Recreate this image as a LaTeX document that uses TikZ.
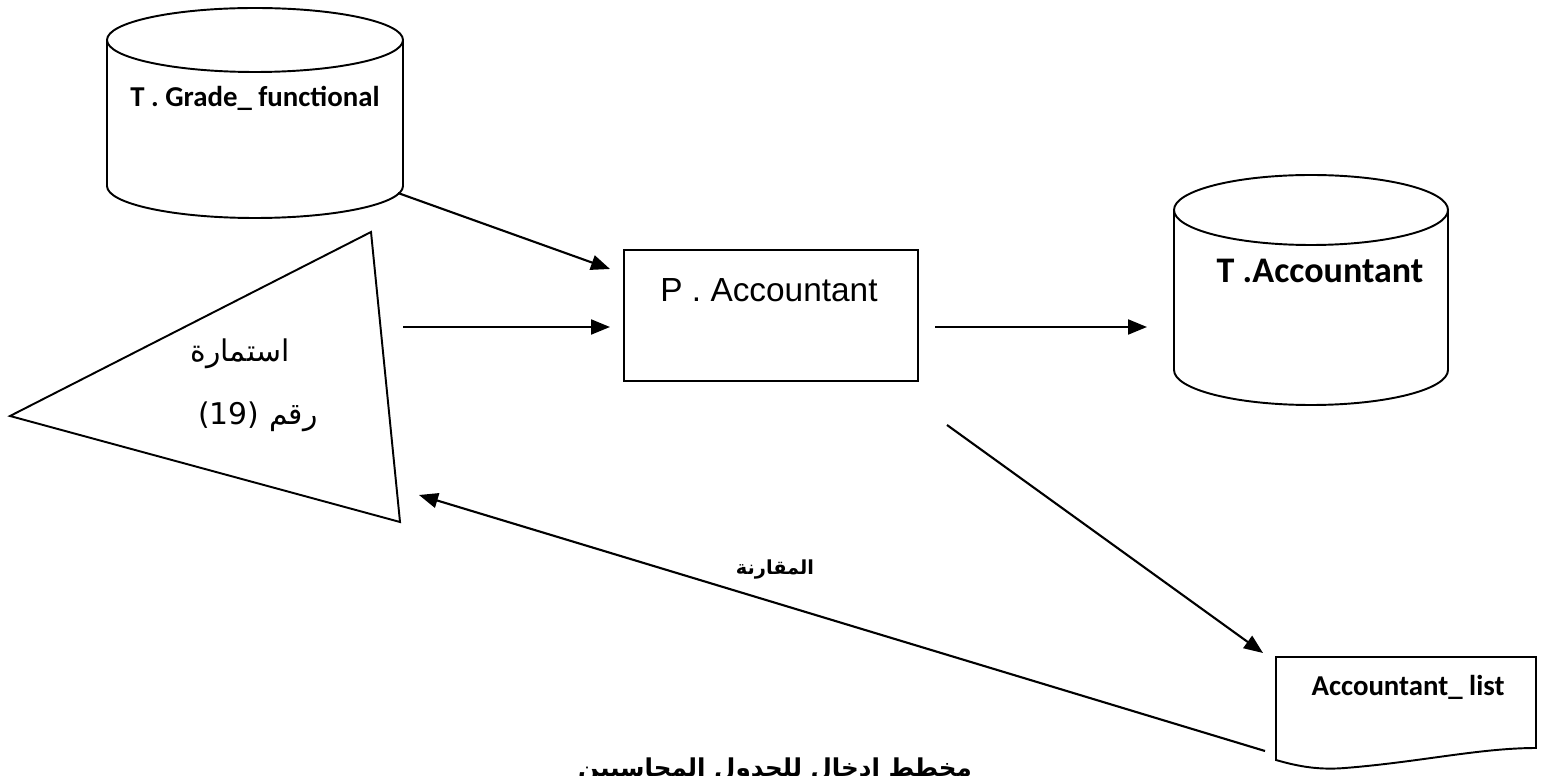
\documentclass[tikz,border=0pt]{standalone}
\usepackage{fontspec}
\setmainfont{Liberation Sans}
\newfontfamily\calibri{Carlito}
\newfontfamily\arabicfont[Script=Arabic]{DejaVu Sans}
\TeXXeTstate=1
\usetikzlibrary{arrows.meta}

\begin{document}
\begin{tikzpicture}[x=0.02cm, y=-0.02cm,
  outline/.style={line width=1.1pt},
  flow/.style={-{Triangle[length=0.38cm, width=0.3cm]}, line width=1.2pt},
  dbtext/.style={font=\calibri\bfseries\fontsize{16.4}{18}\selectfont, anchor=base},
  artext/.style={font=\arabicfont\fontsize{17}{20}\selectfont, anchor=base}]
\useasboundingbox (0,0) rectangle (1541,776);
\clip (0,0) rectangle (1541,776);

% Table T.Grade_functional
\draw[outline] (107,40) -- (107,186) arc[start angle=180, end angle=0, x radius=148, y radius=32] -- (403,40);
\draw[outline] (255,40) ellipse[x radius=148, y radius=32];
\node[dbtext] (grade) at (255,107) {T . Grade\_ functional};

% Form 19
\draw[outline] (10,416) -- (371,232) -- (400,522) -- cycle;
\node[artext] (form) at (240,362) {\beginR استمارة\endR};
\node[artext] (formNo) at (258,425) {\beginR رقم \beginL(19)\endL\endR};

% Process P.Accountant
\node[draw, outline, minimum width=5.88cm, minimum height=2.62cm] (acct) at (771,315.5) {};
\node[font=\fontsize{19}{22}\selectfont, anchor=base] (acctName) at (769,302) {P . Accountant};

% Table T.Accountant
\draw[outline] (1174,210) -- (1174,370) arc[start angle=180, end angle=0, x radius=137, y radius=35] -- (1448,210);
\draw[outline] (1311,210) ellipse[x radius=137, y radius=35];
\node[dbtext, font=\calibri\bfseries\fontsize{20.5}{22}\selectfont] (table) at (1320,283) {T .Accountant};

% Report Accountant_list
\draw[outline] (1276,657) -- (1276,760) .. controls (1300,767) and (1320,770) .. (1345,768)
  .. controls (1420,762) and (1480,748) .. (1536,748) -- (1536,657) -- cycle;
\node[dbtext] (list) at (1408,695) {Accountant\_ list};

% Arrows
\coordinate (gradeOut) at (398,193);
\coordinate (acctInTop) at (610,269);
\coordinate (formOut) at (403,327);
\coordinate (acctInMid) at (610,327);
\coordinate (acctOut) at (935,327);
\coordinate (tableIn) at (1147,327);
\coordinate (acctDown) at (947,425);
\coordinate (listIn) at (1263,653);
\coordinate (listOut) at (1265,751);
\coordinate (formIn) at (419,495);
\draw[flow] (gradeOut) -- (acctInTop);
\draw[flow] (formOut) -- (acctInMid);
\draw[flow] (acctOut) -- (tableIn);
\draw[flow] (acctDown) -- (listIn);
\draw[flow] (listOut) -- (formIn);
\node[artext, font=\arabicfont\bfseries\fontsize{11}{13}\selectfont] (compare) at (775,574) {\beginR المقارنة\endR};

% Title
\node[artext, font=\arabicfont\bfseries\fontsize{14}{17}\selectfont] (title) at (775,776) {\beginR مخطط ادخال للجدول المحاسبين\endR};
\end{tikzpicture}
\end{document}
